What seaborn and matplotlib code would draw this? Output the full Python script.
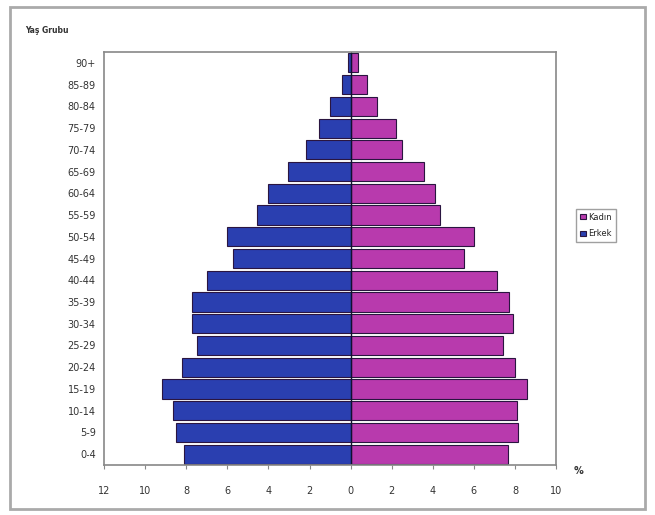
import pandas as pd
import seaborn as sns
import matplotlib.pyplot as plt
from matplotlib.patches import Rectangle

# age groups, top to bottom
age_groups = ['90+', '85-89', '80-84', '75-79', '70-74', '65-69', '60-64', '55-59',
              '50-54', '45-49', '40-44', '35-39', '30-34', '25-29', '20-24',
              '15-19', '10-14', '5-9', '0-4']
# percentages
erkek = [0.15, 0.4, 1.0, 1.55, 2.15, 3.05, 4.0, 4.55, 6.0, 5.75, 7.0, 7.7, 7.7,
         7.5, 8.2, 9.2, 8.65, 8.5, 8.1]
kadin = [0.35, 0.8, 1.3, 2.2, 2.5, 3.55, 4.1, 4.35, 6.0, 5.5, 7.1, 7.7, 7.9,
         7.4, 8.0, 8.6, 8.1, 8.15, 7.65]

df = pd.DataFrame({
    'age': age_groups * 2,
    'value': kadin + [-v for v in erkek],
    'sex': ['Kadın'] * len(age_groups) + ['Erkek'] * len(age_groups),
})

sns.set_style('white')
plt.rcParams['font.family'] = ['DejaVu Sans']

fig = plt.figure(figsize=(6.55, 5.15), dpi=100)
ax = fig.add_axes([0.159, 0.097, 0.690, 0.802])

sns.barplot(data=df, x='value', y='age', hue='sex', order=age_groups,
            hue_order=['Kadın', 'Erkek'], orient='h', dodge=False, width=0.88,
            palette={'Kadın': '#b83aad', 'Erkek': '#2a3fb0'}, saturation=1,
            edgecolor='#2a1540', linewidth=0.8, ax=ax)

ax.set_xlim(-12, 10)
ax.set_xticks(range(-12, 11, 2))
ax.set_xticklabels([str(abs(t)) for t in range(-12, 11, 2)], fontsize=7, color='#333333')
ax.tick_params(axis='y', labelsize=7, labelcolor='#333333', length=0, pad=6)
ax.tick_params(axis='x', length=3, direction='out', color='#888888', pad=12, bottom=True)
ax.set_xlabel('')
ax.set_ylabel('')
for s in ax.spines.values():
    s.set_color('#888888')
    s.set_linewidth(1.2)
ax.axvline(0, color='#101030', lw=1)

ax.legend(loc='center left', bbox_to_anchor=(1.035, 0.58), fontsize=6,
          frameon=True, fancybox=False, edgecolor='#888888',
          handlelength=0.7, handleheight=0.6, handletextpad=0.2, borderpad=0.5,
          labelspacing=0.9)

fig.text(0.038, 0.935, 'Yaş Grubu', fontsize=5.5, fontweight='bold', color='#333333')
fig.text(0.875, 0.08, '%', fontsize=7, fontweight='bold', color='#333333')

# outer frame
fig.patches.append(Rectangle((0.015, 0.012), 0.97, 0.975, transform=fig.transFigure,
                             fill=False, edgecolor='#aaaaaa', lw=2))

fig.savefig('out.png', dpi=100)
